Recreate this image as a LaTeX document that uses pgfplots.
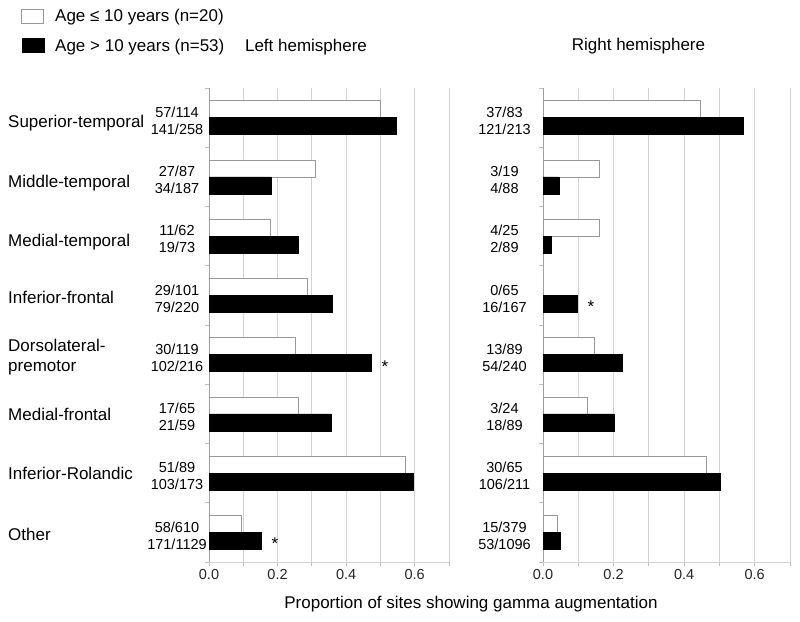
\documentclass[border=0pt]{standalone}
\usepackage{fontspec}
\setmainfont{Liberation Sans}
\usepackage{pgfplots}
\usepackage{pgfplotstable}
\pgfplotsset{compat=1.18}

% proportions = sites with augmentation / sites tested
\pgfplotstableread{
y young old
8 0.5000 0.5465
7 0.3103 0.1818
6 0.1774 0.2603
5 0.2871 0.3591
4 0.2521 0.4722
3 0.2615 0.3559
2 0.5730 0.5954
1 0.0951 0.1515
}\lefttable
\pgfplotstableread{
y young old
8 0.4458 0.5681
7 0.1579 0.0455
6 0.1600 0.0225
5 0.0000 0.0958
4 0.1461 0.2250
3 0.1250 0.2022
2 0.4615 0.5024
1 0.0396 0.0484
}\righttable

\pgfplotsset{hemi/.style={
  scale only axis, height=474pt,
  xmin=0, xmax=0.7, ymin=0.5, ymax=8.5,
  xbar, bar width=17pt,
  axis x line=bottom, axis y line=left,
  axis line style={-},
  x axis line style={gray!35, line width=0.8pt},
  y axis line style={gray!75, line width=0.8pt},
  xtick={0,0.1,0.2,0.3,0.4,0.5,0.6,0.7},
  xticklabels={0.0,,0.2,,0.4,,0.6,},
  xmajorgrids, grid style={gray!35, line width=0.8pt},
  ytick={0.5,1.5,2.5,3.5,4.5,5.5,6.5,7.5,8.5}, yticklabels={},
  tick align=outside, major tick length=4pt,
  tick style={gray!50, line width=0.8pt},
  xticklabel style={font=\fontsize{14.5}{16}\selectfont, text=black!85},
  clip=false,
}}
\tikzset{
  frac/.style={font=\fontsize{14.5}{16}\selectfont, inner sep=0pt, anchor=center},
  star/.style={font=\fontsize{17}{18}\selectfont, inner sep=0pt, anchor=base, xshift=14pt, yshift=-17.5pt},
  cat/.style={font=\fontsize{17}{19.5}\selectfont, inner sep=0pt, anchor=west, align=left},
  txt/.style={font=\fontsize{17}{19}\selectfont, inner sep=0pt},
}
% category y, young fraction, old fraction, offset from axis
\newcommand\fr[4]{%
  \node[frac] at ([xshift=#4, yshift=5.5pt]axis cs:0,#1) {#2};
  \node[frac] at ([xshift=#4, yshift=-11.5pt]axis cs:0,#1) {#3};}

\begin{document}
\begin{tikzpicture}[x=1pt, y=1pt]
\path[use as bounding box] (0,0) rectangle (800,-621);

\begin{axis}[hemi, width=240pt, at={(209pt,-562pt)}, anchor=south west]
\addplot[fill=white, draw=gray!80, bar shift=8.5pt] table[x=young, y=y]{\lefttable};
\addplot[fill=black, draw=black, bar shift=-8.5pt] table[x=old, y=y]{\lefttable};
\fr{8}{57/114}{141/258}{-32pt}
\fr{7}{27/87}{34/187}{-32pt}
\fr{6}{11/62}{19/73}{-32pt}
\fr{5}{29/101}{79/220}{-32pt}
\fr{4}{30/119}{102/216}{-32pt}
\fr{3}{17/65}{21/59}{-32pt}
\fr{2}{51/89}{103/173}{-32pt}
\fr{1}{58/610}{171/1129}{-32pt}
\node[star] at (axis cs:0.4722,4) {*};
\node[star] at (axis cs:0.1515,1) {*};
\end{axis}

\begin{axis}[hemi, width=247pt, at={(543pt,-562pt)}, anchor=south west]
\addplot[fill=white, draw=gray!80, bar shift=8.5pt] table[x=young, y=y]{\righttable};
\addplot[fill=black, draw=black, bar shift=-8.5pt] table[x=old, y=y]{\righttable};
\fr{8}{37/83}{121/213}{-38.5pt}
\fr{7}{3/19}{4/88}{-38.5pt}
\fr{6}{4/25}{2/89}{-38.5pt}
\fr{5}{0/65}{16/167}{-38.5pt}
\fr{4}{13/89}{54/240}{-38.5pt}
\fr{3}{3/24}{18/89}{-38.5pt}
\fr{2}{30/65}{106/211}{-38.5pt}
\fr{1}{15/379}{53/1096}{-38.5pt}
\node[star] at (axis cs:0.0958,5) {*};
\end{axis}

% category names
\node[cat] at (8,-123) {Superior-temporal};
\node[cat] at (8,-183) {Middle-temporal};
\node[cat] at (8,-242) {Medial-temporal};
\node[cat] at (8,-297) {Inferior-frontal};
\node[cat] at (8,-357) {Dorsolateral-\\premotor};
\node[cat] at (8,-414) {Medial-frontal};
\node[cat] at (8,-473) {Inferior-Rolandic};
\node[cat] at (8,-534) {Other};

% legend
\draw[fill=white, draw=gray!80, line width=0.8pt] (21,-9) rectangle (43,-23);
\fill[black] (22,-38) rectangle (45,-53);
\node[txt, anchor=west] at (55,-17) {Age ≤ 10 years (n=20)};
\node[txt, anchor=west] at (55,-47) {Age > 10 years (n=53)};

% titles and common x label
\node[txt] at (306,-47) {Left hemisphere};
\node[txt] at (638.5,-46) {Right hemisphere};
\node[txt] at (471,-604) {Proportion of sites showing gamma augmentation};
\end{tikzpicture}
\end{document}
